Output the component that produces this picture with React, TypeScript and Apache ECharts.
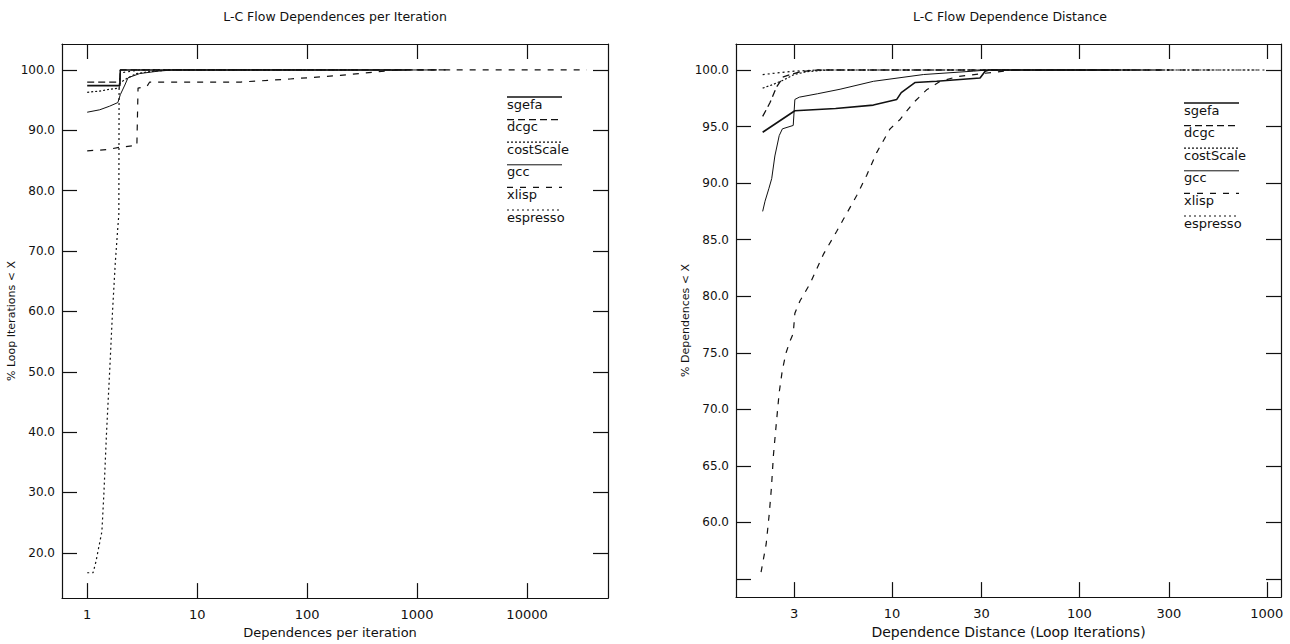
import React, { useEffect, useRef } from "react";
import * as echarts from "echarts";

const FONT = "DejaVu Sans";
const INK = "#111111";

// ---------- axis ticks ----------
const LEFT_X_TICKS = [1, 10, 100, 1000, 10000];
const LEFT_Y_TICKS = [20, 30, 40, 50, 60, 70, 80, 90, 100];
const RIGHT_X_TICKS = [3, 10, 30, 100, 300, 1000];
const RIGHT_Y_TICKS = [55, 60, 65, 70, 75, 80, 85, 90, 95, 100];
const RIGHT_Y_LABELS = [60, 65, 70, 75, 80, 85, 90, 95, 100];

// ---------- series names (legend order) ----------
const NAMES = ["sgefa", "dcgc", "costScale", "gcc", "xlisp", "espresso"];

// ---------- left chart: L-C Flow Dependences per Iteration ----------
const L_SGEFA = [[1, 97.4], [1.98, 97.4], [2.0, 100], [800, 100]];
const L_DCGC = [[1, 98.0], [1.98, 98.0], [2.0, 100], [2000, 100]];
const L_COSTSCALE = [[1, 96.3], [1.3, 96.5], [1.6, 96.8], [1.95, 97.0], [2.0, 97.9], [2.3, 98.6], [2.8, 99.4], [4, 99.8], [6, 100], [300, 100]];
const L_GCC = [[1, 93.0], [1.3, 93.4], [1.6, 94.0], [1.9, 94.6], [2.0, 95.9], [2.2, 97.5], [2.35, 98.7], [3.0, 99.4], [4.4, 99.8], [6, 100], [1500, 100]];
const L_XLISP = [[1, 86.6], [1.5, 86.8], [2.0, 87.2], [2.83, 87.5], [2.9, 97.0], [3.5, 97.3], [3.7, 98.0], [25, 98.0], [70, 98.5], [200, 99.1], [660, 100], [35000, 100]];
const L_ESPRESSO = [[1.0, 16.7], [1.13, 16.7], [1.2, 18.5], [1.27, 20.8], [1.36, 23.5], [1.42, 30], [1.5, 40], [1.6, 50], [1.7, 60], [1.8, 68], [1.9, 74], [1.94, 76], [1.95, 97], [2.0, 99.5], [3, 100], [100, 100]];

// ---------- right chart: L-C Flow Dependence Distance ----------
const R_SGEFA = [[2.04, 94.5], [3.03, 96.4], [5, 96.6], [7.95, 96.9], [10.6, 97.4], [11.2, 98.0], [13.3, 98.9], [17.3, 99.0], [29.5, 99.3], [31.4, 99.9], [33, 100], [150, 100]];
const R_DCGC = [[2.04, 95.9], [2.23, 97.1], [2.42, 98.5], [2.63, 99.4], [3.23, 99.85], [4, 100], [300, 100]];
const R_COSTSCALE = [[2.04, 98.4], [2.3, 98.7], [2.63, 99.1], [3.0, 99.6], [3.5, 99.85], [4.5, 100], [900, 100]];
const R_GCC = [[2.04, 87.5], [2.1, 88.4], [2.2, 89.5], [2.28, 90.4], [2.37, 92.4], [2.5, 94.2], [2.6, 94.8], [2.97, 95.1], [3.03, 97.4], [3.2, 97.6], [4, 97.9], [5.28, 98.3], [7.95, 99.0], [14.7, 99.6], [27.2, 99.9], [32, 100], [200, 100]];
const R_XLISP = [[2.0, 55.6], [2.13, 58.1], [2.21, 60.7], [2.27, 63], [2.33, 66], [2.42, 69], [2.5, 71.5], [2.6, 73.5], [2.72, 75], [2.85, 76], [2.97, 76.7], [3.03, 78.5], [3.23, 79.6], [3.65, 81.1], [4.3, 83.7], [5.07, 85.75], [5.5, 86.8], [6.48, 88.9], [7.33, 90.7], [8.28, 92.7], [9.76, 94.8], [11.0, 95.6], [13.0, 97.1], [15.3, 98.25], [18.0, 98.98], [22.1, 99.4], [30.7, 99.7], [45, 100], [500, 100]];
const R_ESPRESSO = [[2.04, 99.6], [3, 99.9], [4, 100], [1000, 100]];

const LEFT_DATA = [L_SGEFA, L_DCGC, L_COSTSCALE, L_GCC, L_XLISP, L_ESPRESSO];
const RIGHT_DATA = [R_SGEFA, R_DCGC, R_COSTSCALE, R_GCC, R_XLISP, R_ESPRESSO];

const LINE_STYLES: any[] = [
  { type: "solid", width: 1.6 },
  { type: [7, 4], width: 1.3 },
  { type: [2, 2], width: 1.2 },
  { type: "solid", width: 1 },
  { type: [6, 7], width: 1.2 },
  { type: [2, 3], width: 1.2 },
];

const GRIDS = [
  { left: 62, top: 44, width: 546, height: 560 },
  { left: 736, top: 44, width: 545, height: 560 },
];

function xAxes(grid: number, min: number, max: number, ticks: number[], name: string, nameGap: number, namePad: number[], nameSize: number) {
  const common = {
    type: "log",
    logBase: 10,
    gridIndex: grid,
    min,
    max,
    axisLine: { show: true, onZero: false, lineStyle: { color: INK, width: 1.2 } },
    axisTick: { show: true, inside: true, length: 15, customValues: ticks, lineStyle: { color: INK, width: 1.2 } },
    splitLine: { show: false },
    minorTick: { show: false },
  };
  return [
    {
      ...common,
      position: "bottom",
      name,
      nameLocation: "middle",
      nameGap,
      nameTextStyle: { color: INK, fontFamily: FONT, fontSize: nameSize, padding: namePad },
      axisLabel: {
        show: true,
        customValues: ticks,
        margin: 10,
        color: INK,
        fontFamily: FONT,
        fontSize: 13,
        formatter: (v: number) => String(Math.round(v)),
      },
    },
    { ...common, position: "top", axisLabel: { show: false } },
  ];
}

function yAxes(grid: number, min: number, max: number, ticks: number[], labels: number[], name: string, nameGap: number) {
  const common = {
    type: "value",
    gridIndex: grid,
    min,
    max,
    axisLine: { show: true, onZero: false, lineStyle: { color: INK, width: 1.2 } },
    axisTick: { show: true, inside: true, length: 15, customValues: ticks, lineStyle: { color: INK, width: 1.2 } },
    splitLine: { show: false },
  };
  return [
    {
      ...common,
      position: "left",
      name,
      nameLocation: "middle",
      nameRotate: 90,
      nameGap,
      nameTextStyle: { color: INK, fontFamily: FONT, fontSize: 11 },
      axisLabel: {
        show: true,
        customValues: labels,
        margin: 7,
        color: INK,
        fontFamily: FONT,
        fontSize: 12,
        formatter: (v: number) => v.toFixed(1),
      },
    },
    { ...common, position: "right", axisLabel: { show: false } },
  ];
}

function legendGraphics(x: number, y0: number, step: number) {
  const els: any[] = [];
  NAMES.forEach((n, i) => {
    const y = y0 + i * step;
    const ls = LINE_STYLES[i];
    els.push({
      type: "line",
      shape: { x1: x, y1: y, x2: x + 55, y2: y },
      style: { stroke: INK, lineWidth: ls.width, lineDash: Array.isArray(ls.type) ? ls.type : null },
      silent: true,
    });
    els.push({
      type: "text",
      x: x,
      y: y + 7,
      style: { text: n, fill: INK, fontFamily: FONT, fontSize: 13, align: "left", verticalAlign: "middle" },
      silent: true,
    });
  });
  return els;
}

export default function App() {
  const ref = useRef<HTMLDivElement>(null);

  useEffect(() => {
    if (!ref.current) return;
    const chart = echarts.init(ref.current, null, { renderer: "svg" });

    const series: any[] = [];
    LEFT_DATA.forEach((d, i) => {
      series.push({
        name: NAMES[i],
        type: "line",
        xAxisIndex: 0,
        yAxisIndex: 0,
        data: d,
        symbol: "none",
        lineStyle: { color: INK, ...LINE_STYLES[i] },
        clip: true,
      });
    });
    RIGHT_DATA.forEach((d, i) => {
      series.push({
        name: NAMES[i],
        type: "line",
        xAxisIndex: 2,
        yAxisIndex: 2,
        data: d,
        symbol: "none",
        lineStyle: { color: INK, ...LINE_STYLES[i] },
        clip: true,
      });
    });

    chart.setOption({
      animation: false,
      backgroundColor: "#ffffff",
      grid: GRIDS.map((g) => ({ ...g, containLabel: false })),
      xAxis: [
        ...xAxes(0, 0.59, 54500, LEFT_X_TICKS, "Dependences per iteration", 23, [0, 10, 0, 0], 13),
        ...xAxes(1, 1.47, 1191, RIGHT_X_TICKS, "Dependence Distance (Loop Iterations)", 22, [0, 0, 0, 0], 14),
      ],
      yAxis: [
        ...yAxes(0, 12.5, 104.3, LEFT_Y_TICKS, LEFT_Y_TICKS, "% Loop Iterations < X", 38),
        ...yAxes(1, 53.4, 102.3, RIGHT_Y_TICKS, RIGHT_Y_LABELS, "% Dependences < X", 40),
      ],
      graphic: [
        {
          type: "text",
          x: 335,
          y: 16,
          style: { text: "L-C Flow Dependences per Iteration", fill: INK, fontFamily: FONT, fontSize: 12.5, align: "center", verticalAlign: "middle" },
        },
        {
          type: "text",
          x: 1010,
          y: 16,
          style: { text: "L-C Flow Dependence Distance", fill: INK, fontFamily: FONT, fontSize: 12.5, align: "center", verticalAlign: "middle" },
        },
        ...legendGraphics(507, 97, 22.6),
        ...legendGraphics(1184, 103, 22.6),
      ],
      series,
    });

    return () => chart.dispose();
  }, []);

  return (
    <div
      ref={ref}
      style={{ position: "absolute", left: 0, top: 0, width: 1290, height: 644, background: "#fff" }}
    />
  );
}
